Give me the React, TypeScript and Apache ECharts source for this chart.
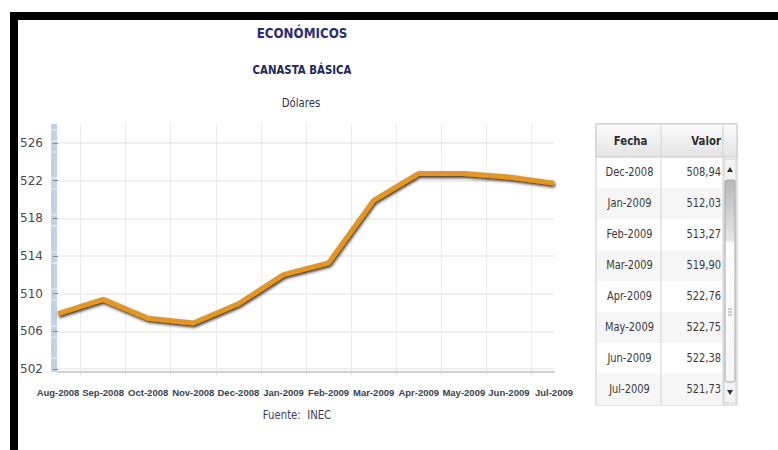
import React, { useEffect, useRef } from "react";
import * as echarts from "echarts";

const months = [
  "Aug-2008", "Sep-2008", "Oct-2008", "Nov-2008", "Dec-2008", "Jan-2009",
  "Feb-2009", "Mar-2009", "Apr-2009", "May-2009", "Jun-2009", "Jul-2009",
];
const values = [
  507.9, 509.4, 507.4, 506.9, 508.94, 512.03,
  513.27, 519.9, 522.76, 522.75, 522.38, 521.73,
];
const yTicks = [502, 506, 510, 514, 518, 522, 526];
const tableFirst = 4;

const title1 = "ECONÓMICOS";
const title2 = "CANASTA BÁSICA";
const unitText = "Dólares";
const sourceText = "Fuente:  INEC";
const headFecha = "Fecha";
const headValor = "Valor";

const FONT = '"DejaVu Sans", sans-serif';
const NARROW = '"Liberation Sans", Arial, sans-serif';
const NAVY = "#2a2d78";

function txt(x: number, y: number, text: string, size: number, color: string, weight: string, align: string, sx = 0.86) {
  return {
    type: "text",
    x,
    y,
    scaleX: sx,
    silent: true,
    style: {
      text,
      fill: color,
      fontSize: size,
      fontWeight: weight,
      fontFamily: FONT,
      align,
      textAlign: align,
      verticalAlign: "middle",
      textVerticalAlign: "middle",
    },
  };
}

export default function App() {
  const ref = useRef<HTMLDivElement>(null);
  useEffect(() => {
    if (!ref.current) return;
    const chart = echarts.init(ref.current, null, { renderer: "svg" });

    const halfTicks = months.slice(1).map((_, i) => i + 0.5);

    // table geometry
    const tX = 596, tY = 124, tW = 141, headH = 33, rowH = 31;
    const c1 = 661, c2 = 723;
    const rows = months.slice(tableFirst).map((m, k) => ({ m, v: values[tableFirst + k] }));
    const tH = headH + rows.length * rowH;

    const graphics: any[] = [];
    // black frame
    graphics.push({ type: "rect", shape: { x: 10, y: 12, width: 768, height: 8 }, style: { fill: "#000" }, silent: true });
    graphics.push({ type: "rect", shape: { x: 10, y: 12, width: 8, height: 438 }, style: { fill: "#000" }, silent: true });
    // blue ruler bar on y axis
    graphics.push({ type: "rect", shape: { x: 51, y: 124, width: 6, height: 248 }, style: { fill: "#c3d1e4" }, silent: true });
    [130, 141, 152, 178, 189, 215, 226, 252, 263, 289, 300, 326, 337, 358].forEach((yy) => {
      graphics.push({ type: "line", shape: { x1: 51, y1: yy, x2: 57, y2: yy }, style: { stroke: "#e9eef6", lineWidth: 1 }, silent: true });
    });
    // titles
    graphics.push(txt(302, 33, title1, 14, NAVY, "bold", "center", 0.85));
    graphics.push(txt(302, 70, title2, 12, "#22285e", "bold", "center", 0.85));
    graphics.push(txt(301, 103, unitText, 11.5, "#2e3358", "normal", "center", 0.88));
    graphics.push(txt(297, 415, sourceText, 11.5, "#3c4068", "normal", "center", 0.88));

    // table
    graphics.push({ type: "rect", shape: { x: tX, y: tY, width: tW, height: tH }, style: { fill: "#fff", stroke: "#c9c9c9", lineWidth: 1 }, silent: true });
    graphics.push({
      type: "rect",
      shape: { x: tX, y: tY, width: tW, height: headH },
      style: {
        fill: new echarts.graphic.LinearGradient(0, 0, 0, 1, [
          { offset: 0, color: "#fbfbfb" },
          { offset: 1, color: "#e4e4e4" },
        ]),
        stroke: "#c9c9c9",
        lineWidth: 1,
      },
      silent: true,
    });
    rows.forEach((r, k) => {
      const y = tY + headH + k * rowH;
      if (k % 2 === 1) {
        graphics.push({ type: "rect", shape: { x: tX + 1, y, width: c2 - tX - 1, height: rowH }, style: { fill: "#f6f6f6" }, silent: true });
      }
      graphics.push(txt((tX + c1) / 2 + 1, y + rowH / 2, r.m, 11.5, "#3a3a3a", "normal", "center", 0.86));
      graphics.push(txt(c2 - 2, y + rowH / 2, r.v.toFixed(2).replace(".", ","), 11.5, "#3a3a3a", "normal", "right", 0.86));
    });
    graphics.push({ type: "line", shape: { x1: c1, y1: tY, x2: c1, y2: tY + tH }, style: { stroke: "#d4d4d4", lineWidth: 1 }, silent: true });
    graphics.push({ type: "line", shape: { x1: c2, y1: tY, x2: c2, y2: tY + tH }, style: { stroke: "#cfcfcf", lineWidth: 1 }, silent: true });
    graphics.push(txt((tX + c1) / 2 + 2, tY + headH / 2 + 1, headFecha, 12, "#2f2f2f", "bold", "center", 0.85));
    graphics.push(txt(c2 - 2, tY + headH / 2 + 1, headValor, 12, "#2f2f2f", "bold", "right", 0.85));
    // scrollbar
    const sbX = c2 + 1, sbW = tX + tW - c2 - 2;
    const sbTop = tY + headH + 2, sbBot = tY + tH - 2;
    graphics.push({ type: "rect", shape: { x: sbX, y: sbTop, width: sbW, height: sbBot - sbTop }, style: { fill: "#f3f3f3", stroke: "#d0d0d0" }, silent: true });
    graphics.push({
      type: "rect",
      shape: { x: sbX + 1, y: sbTop + 21, width: sbW - 2, height: sbBot - sbTop - 42, r: 2 },
      style: {
        fill: new echarts.graphic.LinearGradient(0, 0, 0, 1, [
          { offset: 0, color: "#b9b9b9" },
          { offset: 0.3, color: "#e6e6e6" },
          { offset: 0.31, color: "#fdfdfd" },
          { offset: 1, color: "#f7f7f7" },
        ]),
        stroke: "#a8a8a8",
      },
      silent: true,
    });
    const midX = sbX + sbW / 2;
    graphics.push({ type: "polygon", shape: { points: [[midX, sbTop + 8], [midX - 3, sbTop + 13], [midX + 3, sbTop + 13]] }, style: { fill: "#333" }, silent: true });
    graphics.push({ type: "polygon", shape: { points: [[midX, sbBot - 8], [midX - 3, sbBot - 13], [midX + 3, sbBot - 13]] }, style: { fill: "#333" }, silent: true });
    [0, 3, 6].forEach((d) => {
      graphics.push({ type: "line", shape: { x1: midX - 2, y1: 309 + d, x2: midX + 2, y2: 309 + d }, style: { stroke: "#999", lineWidth: 1 }, silent: true });
    });

    chart.setOption({
      animation: false,
      backgroundColor: "#ffffff",
      grid: { left: 58, right: 224, top: 124, bottom: 78, containLabel: false },
      xAxis: [
        {
          type: "value",
          min: 0,
          max: months.length - 1,
          interval: 1,
          axisLine: { show: true, lineStyle: { color: "#cfcfcf", width: 2 } },
          axisTick: { show: false },
          splitLine: { show: false },
          axisLabel: {
            margin: 15,
            showMinLabel: true,
            showMaxLabel: true,
            hideOverlap: false,
            formatter: (v: number) => months[Math.round(v)] ?? "",
            fontFamily: NARROW,
            fontSize: 9.5,
            fontWeight: "bold",
            color: "#3b4252",
          },
        },
        {
          type: "value",
          position: "bottom",
          min: 0,
          max: months.length - 1,
          axisLine: { show: false },
          axisTick: { show: true, customValues: halfTicks, length: 3, lineStyle: { color: "#d8d8d8" } },
          axisLabel: { show: false, customValues: halfTicks },
          splitLine: { show: true, lineStyle: { color: "#ececec", width: 1 } },
        },
      ],
      yAxis: {
        type: "value",
        min: 501.7,
        max: 528,
        offset: 10,
        axisLine: { show: false },
        axisTick: { show: true, customValues: yTicks, length: 5, lineStyle: { color: "#888" } },
        axisLabel: {
          customValues: yTicks,
          margin: 5,
          fontFamily: FONT,
          fontSize: 12,
          color: "#4a4a4a",
        },
        splitLine: { show: true, lineStyle: { color: "#ebebeb", width: 1.5 } },
      },
      series: [
        {
          type: "line",
          xAxisIndex: 0,
          data: values.map((v, i) => [i, v]),
          symbol: "none",
          lineStyle: {
            color: "#e8951d",
            width: 5,
            shadowColor: "rgba(30,30,30,0.9)",
            shadowBlur: 3,
            shadowOffsetX: 1,
            shadowOffsetY: 2,
          },
          z: 3,
        },
      ],
      graphic: graphics,
    });
    return () => chart.dispose();
  }, []);
  return (
    <div
      ref={ref}
      style={{ position: "absolute", left: 0, top: 0, width: 778, height: 450, background: "#fff" }}
    />
  );
}
